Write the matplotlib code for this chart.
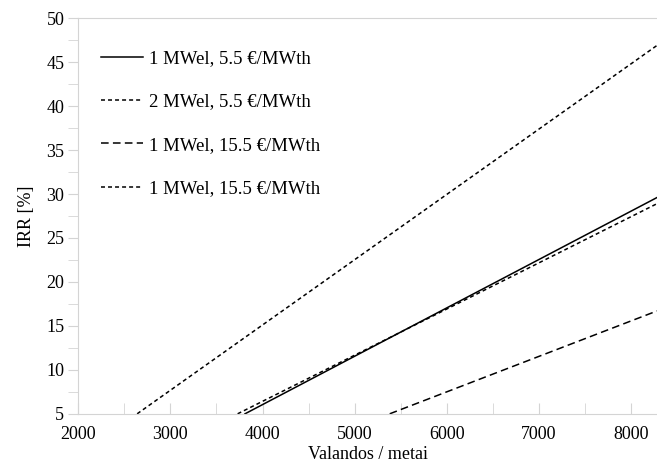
import numpy as np
import matplotlib.pyplot as plt
from matplotlib.ticker import MultipleLocator

# data (straight lines, start at IRR=5 and end at right edge)
labels = ['1 MWel, 5.5 €/MWth', '2 MWel, 5.5 €/MWth',
          '1 MWel, 15.5 €/MWth', '1 MWel, 15.5 €/MWth']
x_solid = [3810, 8280]
y_solid = [5, 29.6]
x_2mw = [2640, 8280]
y_2mw = [5, 46.9]
x_long = [5380, 8280]
y_long = [5, 16.7]
x_short = [3730, 8280]
y_short = [5, 28.9]

plt.rcParams['font.family'] = ['Liberation Serif', 'DejaVu Serif']
plt.rcParams['font.size'] = 13

fig = plt.figure(figsize=(6.57, 4.66), dpi=100)
ax = fig.add_axes([0.119, 0.112, 0.881, 0.849])

grey = '#d4d4d4'
ax.plot(x_solid, y_solid, color='black', lw=1.1, label=labels[0])
ax.plot(x_2mw, y_2mw, color='black', lw=1.1, dashes=(2.6, 2.0), label=labels[1])
ax.plot(x_long, y_long, color='black', lw=1.1, dashes=(5.0, 2.8), label=labels[2])
ax.plot(x_short, y_short, color='black', lw=1.1, dashes=(2.6, 2.0), label=labels[3])

ax.set_xlim(2000, 8280)
ax.set_ylim(5, 50)
ax.xaxis.set_major_locator(MultipleLocator(1000))
ax.xaxis.set_minor_locator(MultipleLocator(500))
ax.yaxis.set_major_locator(MultipleLocator(5))
ax.yaxis.set_minor_locator(MultipleLocator(2.5))

ax.tick_params(axis='x', which='both', direction='in', length=8, color=grey, pad=9)
ax.tick_params(axis='y', which='both', direction='out', length=7, color=grey, pad=3)
for s in ['left', 'bottom', 'top']:
    ax.spines[s].set_color(grey)
ax.spines['right'].set_visible(False)

ax.set_xlabel('Valandos / metai', labelpad=2)
ax.set_ylabel('IRR [%]', labelpad=8)

ax.legend(loc='upper left', frameon=False, fontsize=13.5, handlelength=2.25,
          handletextpad=0.3, labelspacing=1.4, bbox_to_anchor=(0.01, 0.962))

fig.savefig('out.png', dpi=100)
